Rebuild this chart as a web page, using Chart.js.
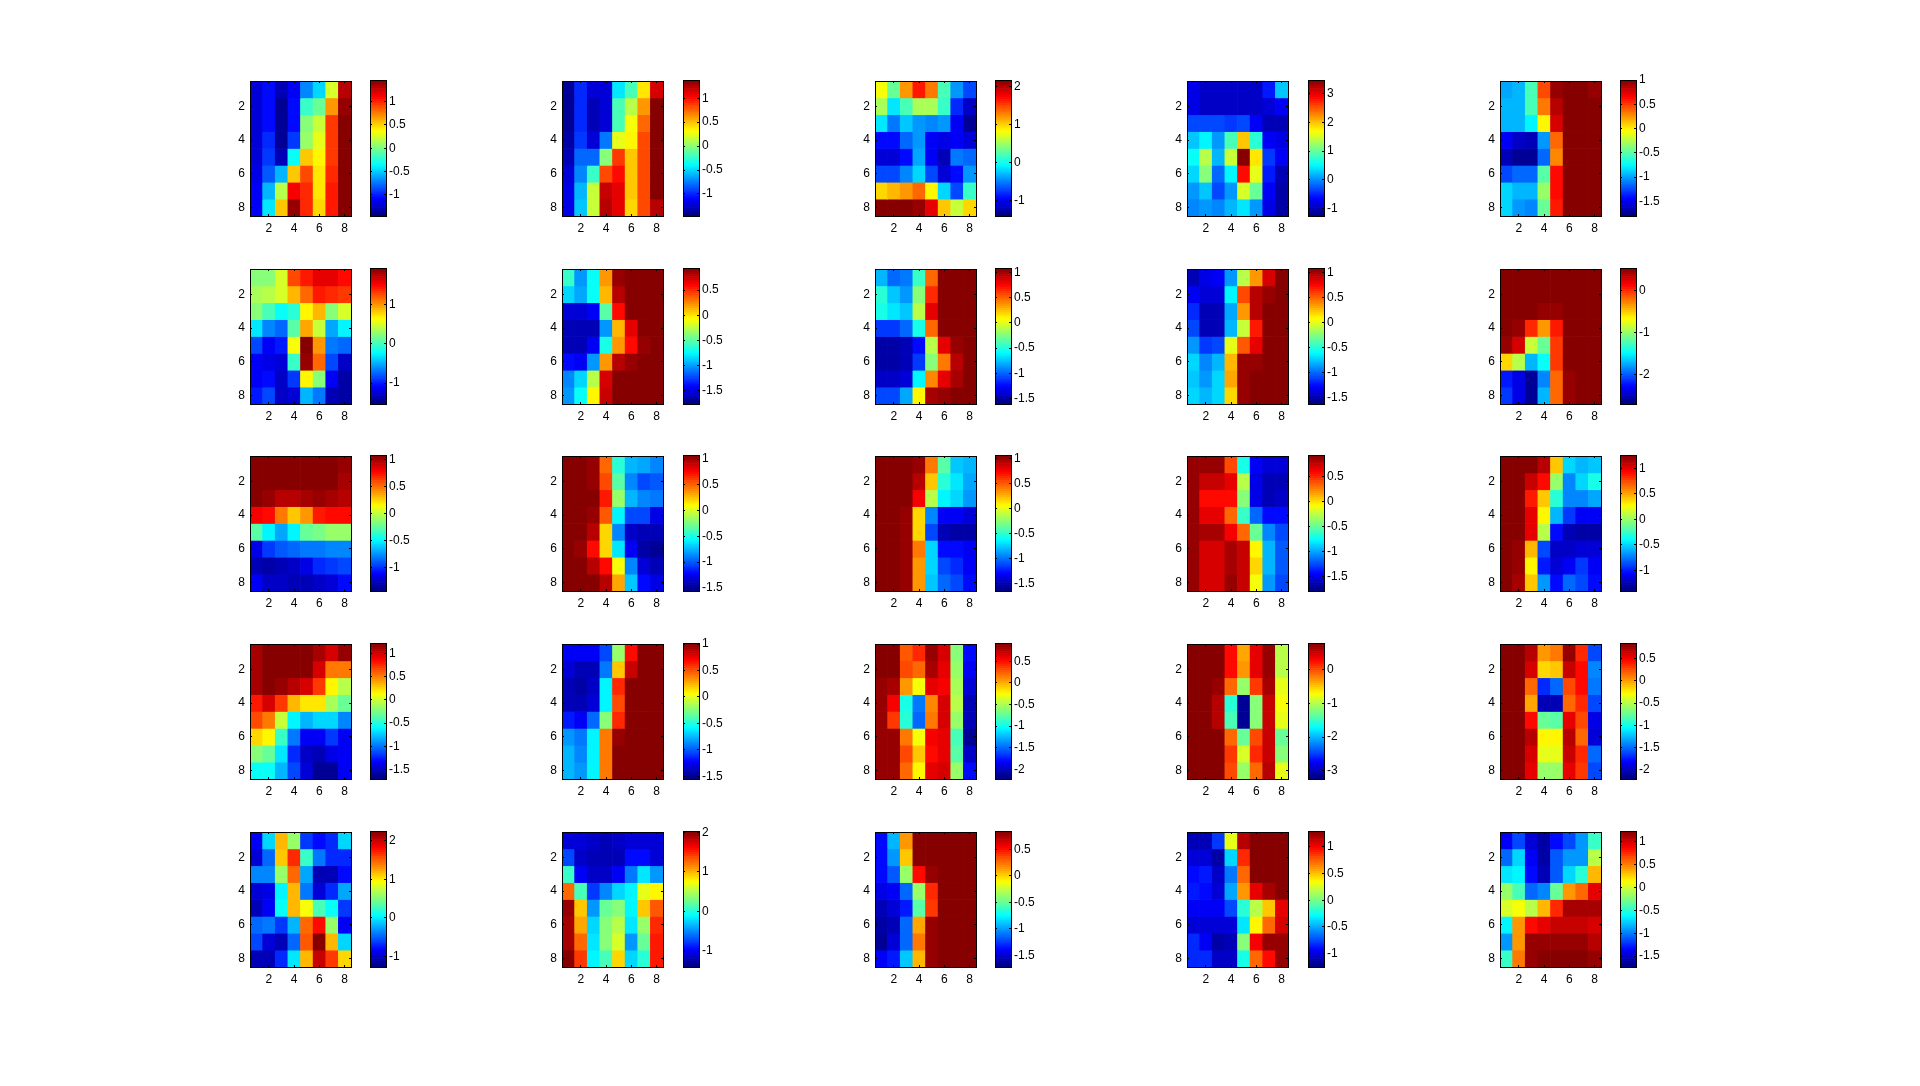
<!DOCTYPE html>
<html><head><meta charset="utf-8">
<script src="https://cdn.jsdelivr.net/npm/chart.js@4"></script>
<style>html,body{margin:0;padding:0;background:#fff;width:1920px;height:1086px;overflow:hidden}canvas{position:absolute;display:block}</style>
</head><body>
<script>
// Cell labels and tick labels
const cellLabels=[1,2,3,4,5,6,7,8];
const heatTicks=[2,4,6,8];
// Cell values, as levels 0-100 of each panel's colour range (row by row)
const panel01=[[8,14,6,12,26,34,58,94],[8,14,3,14,43,48,72,98],[8,14,3,14,51,57,82,100],[8,16,3,18,53,60,82,100],[9,18,6,38,68,63,82,100],[10,21,30,68,80,65,83,100],[11,31,55,88,83,65,85,100],[11,35,68,97,83,66,85,100]];
const panel02=[[2,16,8,8,35,44,65,92],[3,17,6,8,44,55,73,100],[3,17,6,8,45,61,78,100],[4,18,8,24,60,64,80,100],[6,23,23,50,82,68,80,100],[8,26,43,80,87,68,80,100],[10,31,57,93,90,68,80,100],[10,32,57,94,90,66,80,95]];
const panel03=[[62,48,73,85,75,45,27,20],[54,35,45,54,54,43,16,7],[35,24,32,28,26,28,11,3],[14,14,22,28,12,10,11,8],[8,8,14,29,11,5,24,23],[20,20,25,33,20,9,14,27],[67,69,72,77,63,33,20,43],[100,100,100,98,90,68,57,66]];
const panel04=[[10,7,7,7,7,7,15,32],[10,7,7,7,7,7,8,12],[20,20,19,18,20,12,6,6],[32,37,27,45,68,42,12,10],[38,55,31,57,100,65,18,11],[33,50,23,37,87,60,15,6],[27,32,19,28,58,48,11,4],[25,27,26,30,35,28,10,4]];
const panel05=[[29,30,45,80,97,100,100,98],[31,31,44,75,95,100,100,100],[31,30,36,63,92,100,100,100],[12,7,6,28,77,100,100,100],[5,3,3,22,74,100,100,100],[19,22,23,46,87,100,100,100],[33,30,30,52,87,100,100,100],[33,28,26,48,85,100,100,100]];
const panel06=[[50,50,58,80,85,90,90,87],[54,56,58,70,78,85,83,82],[50,44,38,42,63,70,50,58],[35,26,22,46,71,57,29,36],[20,12,15,62,100,72,24,23],[11,10,8,43,97,78,20,7],[12,14,7,18,63,50,11,4],[15,19,7,8,31,24,5,4]];
const panel07=[[43,27,38,72,97,100,100,100],[33,29,38,70,95,100,100,100],[8,8,12,46,86,100,100,100],[5,5,6,27,70,90,100,100],[6,6,12,40,72,87,98,100],[13,12,28,72,94,97,100,100],[25,33,55,92,100,100,100,100],[28,38,63,93,100,100,100,100]];
const panel08=[[30,23,24,43,78,100,100,100],[42,32,27,50,83,100,100,100],[40,35,32,56,90,100,100,100],[18,18,22,40,78,100,100,100],[4,4,5,14,56,90,97,100],[4,4,5,18,50,76,95,100],[7,7,9,36,74,90,96,100],[19,20,29,64,96,98,100,100]];
const panel09=[[6,10,12,28,56,73,92,100],[12,8,9,37,80,95,98,100],[17,6,5,29,73,95,100,100],[19,6,5,31,57,85,100,100],[27,18,20,60,79,90,100,100],[33,25,31,69,97,98,100,100],[32,28,33,71,98,100,100,100],[33,31,34,67,97,100,100,100]];
const panel10=[[100,100,100,100,100,100,100,100],[100,100,100,100,100,100,100,100],[100,100,100,98,98,100,100,100],[100,98,84,72,85,100,100,100],[98,92,57,47,82,100,100,100],[67,56,30,38,82,100,100,100],[15,10,3,25,77,98,100,100],[18,10,3,30,77,98,100,100]];
const panel11=[[100,100,100,100,100,100,100,98],[100,100,100,100,100,100,100,96],[99,97,94,94,96,98,96,94],[88,86,76,68,73,85,87,87],[46,37,29,36,47,49,52,53],[10,18,21,22,24,24,25,26],[6,4,5,7,10,16,18,20],[12,7,7,6,5,7,8,14]];
const panel12=[[100,100,98,78,42,31,29,25],[100,100,98,80,46,26,20,21],[100,100,100,85,52,30,26,24],[100,100,98,79,36,20,19,10],[100,100,94,67,25,7,5,5],[100,98,86,67,35,11,4,3],[100,100,94,86,62,25,8,5],[100,100,100,95,71,32,13,10]];
const panel13=[[100,100,100,98,76,46,32,31],[100,100,100,94,68,42,35,29],[100,100,100,88,55,36,33,28],[100,100,98,67,25,11,11,8],[100,100,98,67,20,5,4,4],[100,100,98,75,34,14,13,11],[100,100,98,73,33,19,17,12],[100,100,98,72,32,22,19,13]];
const panel14=[[98,97,97,80,40,11,8,8],[98,93,93,90,55,10,5,6],[98,87,87,87,50,10,5,7],[98,90,90,77,43,22,13,13],[98,96,96,88,78,48,25,20],[98,92,92,96,93,64,30,21],[98,92,92,96,93,66,31,21],[98,92,92,97,93,62,27,20]];
const panel15=[[100,100,100,95,68,33,30,32],[100,100,93,87,52,26,33,40],[100,100,85,68,42,25,25,29],[100,100,90,63,30,18,12,12],[100,100,90,55,13,5,4,4],[100,98,70,20,7,7,8,8],[100,97,63,15,8,12,18,12],[100,96,68,28,13,23,20,14]];
const panel16=[[96,100,100,100,100,96,92,97],[96,100,100,100,100,92,76,76],[96,100,98,95,92,82,63,55],[85,92,82,69,65,65,54,47],[81,75,57,37,30,33,33,25],[66,64,43,24,11,11,18,12],[50,48,35,17,7,6,10,11],[38,38,30,19,8,2,3,11]];
const panel17=[[12,11,11,19,52,86,100,100],[8,6,6,24,68,93,100,100],[5,4,7,36,84,100,100,100],[6,5,9,36,80,100,100,100],[15,12,23,50,84,100,100,100],[27,24,36,75,97,100,100,100],[30,26,36,75,100,100,100,100],[30,27,37,76,100,100,100,100]];
const panel18=[[100,100,79,84,97,92,51,13],[100,100,81,77,96,90,52,12],[98,96,72,62,90,88,54,8],[97,88,40,24,74,92,55,5],[97,82,42,23,75,92,52,5],[97,98,75,62,88,90,45,3],[97,98,80,68,87,90,46,7],[97,98,78,63,90,92,53,14]];
const panel19=[[100,100,100,86,71,90,97,55],[100,100,100,86,72,90,97,56],[100,100,98,78,52,82,96,60],[100,100,95,42,2,50,93,62],[100,100,95,44,3,50,93,60],[100,100,100,78,47,80,93,48],[100,100,100,82,58,83,93,50],[100,100,100,80,52,78,94,60]];
const panel20=[[100,100,95,72,76,97,83,20],[100,100,92,66,68,93,86,25],[100,100,77,17,22,80,86,24],[100,100,71,5,5,78,84,19],[100,100,86,47,46,90,80,10],[100,100,95,63,63,95,77,9],[100,100,92,60,60,93,83,22],[100,100,90,53,53,90,82,19]];
const panel21=[[12,34,70,52,18,14,16,33],[8,23,68,83,43,24,16,16],[26,26,52,77,29,5,5,13],[9,10,37,70,24,8,16,29],[6,12,38,70,62,45,38,18],[23,24,18,30,77,87,52,12],[20,9,6,23,79,100,70,34],[5,5,17,35,69,93,82,67]];
const panel22=[[8,8,7,6,7,9,9,8],[19,7,5,5,6,13,14,8],[43,12,7,7,11,24,35,27],[78,45,18,25,33,37,60,64],[97,68,28,47,50,37,68,79],[96,71,33,50,56,35,53,84],[96,77,35,50,58,28,47,85],[100,82,37,44,67,33,42,85]];
const panel23=[[14,30,72,100,100,100,100,100],[14,28,68,100,100,100,100,100],[13,21,52,87,97,100,100,100],[10,12,23,52,84,100,100,100],[6,8,15,46,82,100,100,100],[4,6,23,71,97,100,100,100],[3,8,23,75,97,100,100,100],[11,15,32,70,97,100,100,100]];
const panel24=[[5,5,18,60,95,100,100,100],[9,9,4,33,84,100,100,100],[14,15,7,24,78,100,100,100],[15,13,8,29,73,90,96,100],[11,11,12,20,42,56,68,90],[8,8,8,8,35,64,77,92],[16,11,4,5,50,88,98,98],[16,16,7,7,40,78,86,97]];
const panel25=[[12,19,8,4,13,20,28,43],[23,33,12,4,21,27,28,55],[35,37,14,5,21,33,42,70],[52,45,22,26,47,72,78,90],[58,62,55,69,83,96,96,96],[36,72,86,90,93,93,93,92],[28,72,97,97,97,97,97,95],[43,76,98,100,100,100,100,97]];
const panels=[panel01,panel02,panel03,panel04,panel05,panel06,panel07,panel08,panel09,panel10,panel11,panel12,panel13,panel14,panel15,panel16,panel17,panel18,panel19,panel20,panel21,panel22,panel23,panel24,panel25];
// Colour bar limits and tick labels
const barLow=[-1.45,-1.46,-1.40,-1.26,-1.80,-1.53,-1.76,-1.61,-1.63,-2.69,-1.44,-1.56,-1.64,-1.78,-1.40,-1.70,-1.55,-2.22,-3.25,-2.21,-1.28,-1.40,-1.72,-1.25,-1.74];
const barHigh=[1.46,1.38,2.17,3.47,1.00,1.93,0.94,1.09,1.09,0.54,1.08,1.08,1.07,0.93,1.26,1.22,1.02,0.92,0.80,0.85,2.26,2.03,0.85,1.30,1.24];
const barTicks=[[1,0.5,0,-0.5,-1],[1,0.5,0,-0.5,-1],[2,1,0,-1],[3,2,1,0,-1],[1,0.5,0,-0.5,-1,-1.5],
[1,0,-1],[0.5,0,-0.5,-1,-1.5],[1,0.5,0,-0.5,-1,-1.5],[1,0.5,0,-0.5,-1,-1.5],[0,-1,-2],
[1,0.5,0,-0.5,-1],[1,0.5,0,-0.5,-1,-1.5],[1,0.5,0,-0.5,-1,-1.5],[0.5,0,-0.5,-1,-1.5],[1,0.5,0,-0.5,-1],
[1,0.5,0,-0.5,-1,-1.5],[1,0.5,0,-0.5,-1,-1.5],[0.5,0,-0.5,-1,-1.5,-2],[0,-1,-2,-3],[0.5,0,-0.5,-1,-1.5,-2],
[2,1,0,-1],[2,1,0,-1],[0.5,0,-0.5,-1,-1.5],[1,0.5,0,-0.5,-1],[1,0.5,0,-0.5,-1,-1.5]];

// Page layout
const panelLefts=[250,562,875,1187,1500];
const barLefts=[370,683,995,1308,1620];
const panelTops=[81,269,456,644,832];
const panelW=101, panelH=135, barW=16, M=16;
const FONT={family:"'Liberation Sans', Arial, sans-serif",size:12};

const clip=v=>Math.max(0,Math.min(1,v));
function jet(idx){const t=(idx+.5)/64;
  const c=o=>Math.round(255*clip(1.5-Math.abs(4*t-o)));
  return `rgb(${c(3)},${c(2)},${c(1)})`;}
const levelColor=l=>jet(Math.min(63,Math.floor(l/100*64)));
const fixW=w=>s=>{s.width=w}, fixH=h=>s=>{s.height=h};
const frame={color:'#000',width:1,z:1};
const tickGrid={drawOnChartArea:false,drawTicks:true,tickLength:-2,tickColor:'#000',tickWidth:1,z:1,offset:false};
const keepEven=s=>{s.ticks=s.ticks.filter(t=>heatTicks.includes(cellLabels[t.value]))};
const setTicks=vals=>s=>{s.ticks=vals.map(v=>({value:v}))};

function mk(left,top,w,h){const c=document.createElement('canvas');c.width=w;c.height=h;
  c.style.left=left+'px';c.style.top=top+'px';c.style.width=w+'px';c.style.height=h+'px';
  document.body.appendChild(c);return c;}
const base={responsive:false,animation:false,devicePixelRatio:1,events:[],plugins:{legend:{display:false},tooltip:{enabled:false}}};

panels.forEach((rows,i)=>{
  const px=panelLefts[i%5], py=panelTops[Math.floor(i/5)];
  // heat map
  const cv=mk(px-30,py-M,panelW+60,panelH+M+30);
  new Chart(cv,{type:'bar',data:{labels:cellLabels,datasets:rows.map((row,r)=>({
      data:row.map(()=>[r+.5,r+1.5]),backgroundColor:row.map(levelColor),borderWidth:0,
      barPercentage:1,categoryPercentage:1,grouped:false}))},
    options:{...base,layout:{padding:0},scales:{
      x:{type:'category',position:'bottom',offset:true,afterFit:fixH(30),afterBuildTicks:keepEven,
         grid:tickGrid,border:frame,ticks:{font:FONT,color:'#000',padding:7,autoSkip:false,maxRotation:0,callback:v=>String(cellLabels[v])}},
      xTop:{type:'category',axis:'x',labels:cellLabels,position:'top',offset:true,afterFit:fixH(M),afterBuildTicks:keepEven,
         grid:tickGrid,border:frame,ticks:{display:false,autoSkip:false}},
      y:{type:'linear',position:'left',min:.5,max:8.5,reverse:true,afterFit:fixW(30),afterBuildTicks:setTicks(heatTicks),
         grid:tickGrid,border:frame,ticks:{font:FONT,color:'#000',padding:7,callback:v=>String(v)}},
      yRight:{type:'linear',axis:'y',position:'right',min:.5,max:8.5,reverse:true,afterFit:fixW(30),afterBuildTicks:setTicks(heatTicks),
         grid:tickGrid,border:frame,ticks:{display:false}}
    }}});
  // colour bar
  const lo=barLow[i], hi=barHigh[i], step=(hi-lo)/64;
  const cbx=barLefts[i%5], cby=py-1;
  const bv=mk(cbx-5,cby-M,barW+55,panelH+1+2*M);
  const steps=Array.from({length:64},(_,k)=>k);
  new Chart(bv,{type:'bar',data:{labels:['c'],datasets:steps.map(k=>({
      data:[[lo+k*step,lo+(k+1)*step]],backgroundColor:jet(k),borderWidth:0,
      barPercentage:1,categoryPercentage:1,grouped:false}))},
    options:{...base,layout:{padding:0},scales:{
      x:{type:'category',position:'bottom',offset:true,afterFit:fixH(M),grid:{display:false},border:frame,ticks:{display:false}},
      xTop:{type:'category',axis:'x',labels:['c'],position:'top',offset:true,afterFit:fixH(M),grid:{display:false},border:frame,ticks:{display:false}},
      y:{type:'linear',position:'right',min:lo,max:hi,afterFit:fixW(50),afterBuildTicks:setTicks(barTicks[i]),
         grid:tickGrid,border:frame,ticks:{font:FONT,color:'#000',padding:5,callback:v=>String(v)}},
      yLeft:{type:'linear',axis:'y',position:'left',min:lo,max:hi,afterFit:fixW(5),afterBuildTicks:setTicks(barTicks[i]),
         grid:tickGrid,border:frame,ticks:{display:false}}
    }}});
});
</script>
</body></html>
